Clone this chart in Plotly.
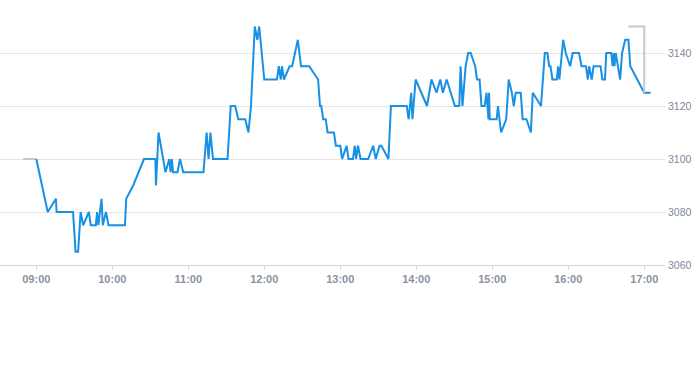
import plotly.graph_objects as go

DAY = "2024-01-02 "

blue_times = [
    "09:00", "09:09", "09:15:30", "09:16", "09:29", "09:31", "09:33", "09:35", "09:37", "09:41:30",
    "09:43", "09:47", "09:48", "09:49", "09:51:30", "09:52:30", "09:55", "09:57", "10:10", "10:11",
    "10:16:30", "10:25", "10:34", "10:34:30", "10:36:30", "10:42", "10:45", "10:46", "10:47", "10:48",
    "10:51:30", "10:53:30", "10:56", "11:12", "11:14:30", "11:16", "11:17:30", "11:19:30", "11:31", "11:33:30",
    "11:37", "11:39:30", "11:45", "11:47:30", "11:49:30", "11:52:30", "11:54:30", "11:56", "12:00", "12:10",
    "12:11:30", "12:13", "12:14", "12:15:30", "12:20", "12:22", "12:26:30", "12:29", "12:35:30", "12:42:30",
    "12:44", "12:45", "12:46:30", "12:48:30", "12:50", "12:55", "12:56:30", "13:00", "13:01:30", "13:05",
    "13:06:30", "13:10", "13:11:30", "13:12:30", "13:14", "13:16", "13:22", "13:26", "13:28", "13:31",
    "13:32:30", "13:38", "13:40", "13:52:30", "13:54", "13:56", "13:57", "13:59:30", "14:08:30", "14:12",
    "14:16", "14:19", "14:21", "14:24", "14:30:30", "14:34", "14:35", "14:36:30", "14:39", "14:41",
    "14:43", "14:46:30", "14:48", "14:50", "14:51:30", "14:54", "14:55:30", "14:57", "14:57:30", "14:58",
    "15:03:30", "15:04:30", "15:07", "15:11", "15:13", "15:15:30", "15:17", "15:18:30", "15:22:30", "15:24",
    "15:27", "15:30:30", "15:32", "15:38:30", "15:41:30", "15:43:30", "15:45", "15:46", "15:47:30", "15:51",
    "15:52", "15:53", "15:56", "15:58", "16:01:30", "16:03:30", "16:08:30", "16:10:30", "16:14", "16:15:30",
    "16:16:30", "16:18:30", "16:20", "16:25:30", "16:27", "16:29", "16:30", "16:34", "16:35", "16:36",
    "16:36:30", "16:37:30", "16:41", "16:42:30", "16:45", "16:47:30", "16:49", "17:00", "17:05",
]

blue_prices = [
    3100, 3080, 3085, 3080, 3080, 3065, 3065, 3080, 3075, 3080,
    3075, 3075, 3080, 3075, 3085, 3075, 3080, 3075, 3075, 3085,
    3090, 3100, 3100, 3090, 3110, 3095, 3100, 3095, 3100, 3095,
    3095, 3100, 3095, 3095, 3110, 3100, 3110, 3100, 3100, 3120,
    3120, 3115, 3115, 3110, 3120, 3150, 3145, 3150, 3130, 3130,
    3135, 3130, 3135, 3130, 3135, 3135, 3145, 3135, 3135, 3130,
    3120, 3120, 3115, 3115, 3110, 3110, 3105, 3105, 3100, 3105,
    3100, 3100, 3105, 3100, 3105, 3100, 3100, 3105, 3100, 3105,
    3105, 3100, 3120, 3120, 3115, 3125, 3115, 3130, 3120, 3130,
    3125, 3130, 3125, 3130, 3120, 3120, 3135, 3120, 3135, 3140,
    3140, 3135, 3130, 3130, 3120, 3120, 3125, 3115, 3125, 3115,
    3115, 3120, 3110, 3115, 3130, 3125, 3120, 3125, 3125, 3115,
    3115, 3110, 3125, 3120, 3140, 3140, 3135, 3135, 3130, 3130,
    3135, 3130, 3145, 3140, 3135, 3140, 3140, 3135, 3135, 3130,
    3135, 3130, 3135, 3135, 3130, 3130, 3140, 3140, 3135, 3140,
    3135, 3140, 3130, 3140, 3145, 3145, 3135, 3125, 3125,
]

gray_pre_times = ["08:49:30", "09:00"]
gray_pre_prices = [3100, 3100]
gray_post_times = ["16:47:30", "17:00", "17:00"]
gray_post_prices = [3150, 3150, 3125]

y_ticks = [3060, 3080, 3100, 3120, 3140]
x_range = ["08:31:20", "17:16:24"]


def full(ts):
    return [DAY + t for t in ts]


fig = go.Figure()
fig.add_trace(go.Scatter(x=full(gray_pre_times), y=gray_pre_prices, mode="lines",
                         line=dict(color="#c4c8cf", width=2), hoverinfo="skip"))
fig.add_trace(go.Scatter(x=full(blue_times), y=blue_prices, mode="lines",
                         line=dict(color="#1890e4", width=2)))
fig.add_trace(go.Scatter(x=full(gray_post_times), y=gray_post_prices, mode="lines",
                         line=dict(color="#c4c8cf", width=2), hoverinfo="skip"))

font_family = "Liberation Sans, Arial, sans-serif"
fig.update_layout(
    width=693, height=365,
    margin=dict(l=0, r=28, t=0, b=100, autoexpand=False),
    paper_bgcolor="white", plot_bgcolor="white",
    showlegend=False,
    xaxis=dict(
        type="date", automargin=False,
        range=full(x_range),
        tick0=DAY + "09:00", dtick=3600000, tickformat="%H:%M",
        showgrid=False, zeroline=False,
        showline=True, linecolor="#ccd6eb", linewidth=1,
        ticks="outside", ticklen=4, tickcolor="#ccd6eb",
        tickfont=dict(family=font_family, size=11, color="#8a93a3", weight="bold"),
    ),
    yaxis=dict(
        side="right", automargin=False,
        range=[3060, 3160],
        tickvals=y_ticks,
        showgrid=True, gridcolor="#e6e6e6", gridwidth=1,
        zeroline=False, showline=False, ticks="",
        ticklabelstandoff=2,
        tickfont=dict(family=font_family, size=10.5, color="#7f8896"),
    ),
)

fig.write_html(
    "out.html",
    config={"displayModeBar": False},
    post_script="document.body.style.margin='0';document.body.style.overflow='hidden';",
)
